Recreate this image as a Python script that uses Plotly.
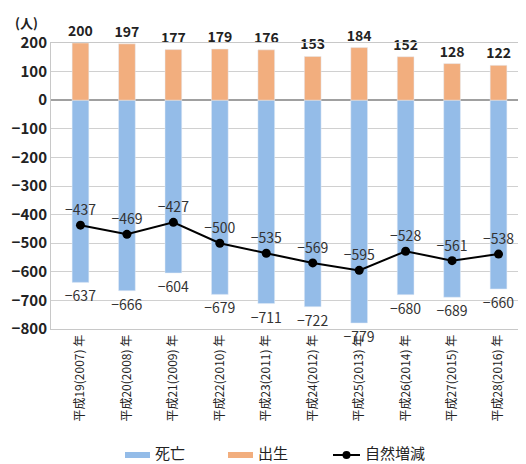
import plotly.graph_objects as go

categories = ["平成19(2007) 年", "平成20(2008) 年", "平成21(2009) 年", "平成22(2010) 年",
              "平成23(2011) 年", "平成24(2012) 年", "平成25(2013) 年", "平成26(2014) 年",
              "平成27(2015) 年", "平成28(2016) 年"]
births = [200, 197, 177, 179, 176, 153, 184, 152, 128, 122]
deaths = [-637, -666, -604, -679, -711, -722, -779, -680, -689, -660]
natural = [-437, -469, -427, -500, -535, -569, -595, -528, -561, -538]
y_ticks = [200, 100, 0, -100, -200, -300, -400, -500, -600, -700, -800]

def fmt(v):
    return str(v).replace("-", "−")

FONT = "Noto Sans CJK JP"
BLUE = "#94BCE8"
ORANGE = "#F2AE7E"

# page body has an 8px margin
OFF = 8
W, H = 526, 464
# target plot area in screen pixels
SX0, SX1, SY0, SY1 = 51, 528, 43, 329
L, T = SX0 - OFF, SY0 - OFF
R, B = (W + OFF) - SX1, (H + OFF) - SY1
PW, PH = W - L - R, H - T - B

def px(x):
    return (x - SX0) / PW

def py(y):
    return (SY1 - y) / PH

fig = go.Figure()
fig.add_trace(go.Bar(
    x=categories, y=deaths, name="死亡", marker_color=BLUE,
    text=[fmt(v) for v in deaths], textposition="outside", cliponaxis=False,
    constraintext="none", textfont=dict(size=14, color="#333333"),
    showlegend=False,
))
fig.add_trace(go.Bar(
    x=categories, y=births, name="出生", marker_color=ORANGE,
    text=["<b>%d</b>" % v for v in births], textposition="outside", cliponaxis=False,
    constraintext="none", textfont=dict(size=14, color="#222222"),
    showlegend=False,
))
fig.add_trace(go.Scatter(
    x=categories, y=natural, name="自然増減", mode="lines+markers+text",
    line=dict(color="black", width=2), marker=dict(color="black", size=9),
    text=[fmt(v) for v in natural], textposition="top center",
    textfont=dict(size=14, color="#333333"), cliponaxis=False,
    showlegend=False,
))

fig.update_layout(
    width=W, height=H,
    margin=dict(l=L, r=R, t=T, b=B, autoexpand=False),
    barmode="relative", bargap=0.64,
    plot_bgcolor="white", paper_bgcolor="white",
    font=dict(family=FONT, color="#222222"),
    showlegend=False,
)
fig.update_yaxes(
    range=[-800, 200], tickvals=y_ticks, ticktext=["<b>%s</b>" % fmt(v) for v in y_ticks],
    showgrid=True, gridcolor="#D0D0D0", zeroline=True, zerolinecolor="#A0A0A0",
    zerolinewidth=1.5, showline=True, linecolor="#C8C8C8", mirror=True,
    tickfont=dict(size=15, color="#222222", family=FONT), ticks="", automargin=False,
)
fig.update_xaxes(
    tickangle=-90, tickfont=dict(size=12, color="#222222"),
    showline=True, linecolor="#C8C8C8", mirror=True, showgrid=False, automargin=False,
)
fig.add_annotation(text="<b>(人)</b>", x=px(26), y=py(22), xref="paper", yref="paper",
                   xanchor="center", yanchor="middle",
                   showarrow=False, font=dict(size=13, color="#222222"))

# custom legend
ly = py(452)
legend_items = [(125, 150, BLUE, "死亡", "bar"), (228, 253, ORANGE, "出生", "bar"),
                (333, 360, "black", "自然増減", "line")]
for x0, x1, col, label, kind in legend_items:
    if kind == "bar":
        fig.add_shape(type="rect", xref="paper", yref="paper",
                      x0=px(x0), x1=px(x1), y0=py(458), y1=py(452),
                      fillcolor=col, line=dict(width=0))
    else:
        fig.add_shape(type="line", xref="paper", yref="paper",
                      x0=px(x0), x1=px(x1), y0=py(455), y1=py(455),
                      line=dict(color=col, width=2))
        fig.add_shape(type="circle", xref="paper", yref="paper",
                      x0=px((x0 + x1) / 2 - 4), x1=px((x0 + x1) / 2 + 4),
                      y0=py(459), y1=py(451), fillcolor=col, line=dict(width=0))
    fig.add_annotation(text=label, x=px(x1 + 3), y=ly, xref="paper", yref="paper",
                       xanchor="left", yanchor="middle", showarrow=False,
                       font=dict(size=15, color="#222222"))

fig.write_html("out.html")
